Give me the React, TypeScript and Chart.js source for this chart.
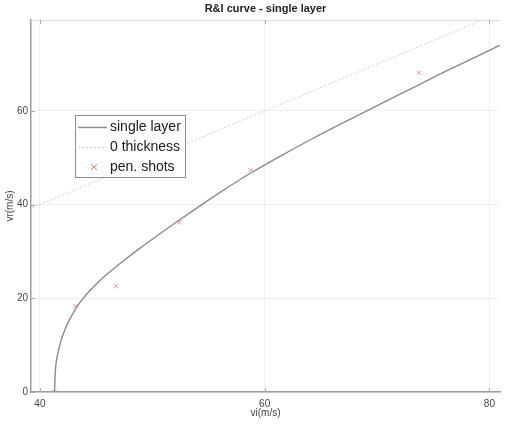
import React, { useEffect, useRef } from 'react';
import { Chart, registerables } from 'chart.js';

Chart.register(...registerables);

const TITLE = 'R&I curve - single layer';
const X_LABEL = 'vi(m/s)';
const Y_LABEL = 'vr(m/s)';
const X_TICKS = [40, 60, 80];
const Y_TICKS = [0, 20, 40, 60];
const SERIES_LABELS = ['single layer', '0 thickness', 'pen. shots'];

const singleLayerVi = [41.3, 41.38, 41.6, 41.9, 42.35, 42.95, 43.5, 44.4, 45.3, 46.5, 47.7, 48.8, 50, 52.35, 55.9, 58.8, 61.2, 64.2, 67.6, 70.5, 73.5, 76.4, 79.4, 81.5];
const singleLayerVr = [0, 4.5, 8.2, 11.1, 14.0, 16.8, 18.9, 21.5, 23.7, 26.2, 28.5, 30.5, 32.6, 36.6, 42.4, 46.8, 50.1, 54.0, 58.2, 61.7, 65.3, 68.8, 72.2, 74.7];

const zeroThicknessVi = [39, 82];
const zeroThicknessVr = [39, 82];

const penShotVi = [41.3, 43.15, 46.75, 52.4, 58.75, 73.75];
const penShotVr = [0, 18.3, 22.6, 36.2, 47.4, 68.1];

const FONT = '"Liberation Sans", Arial, Helvetica, sans-serif';

const overlayPlugin = {
  id: 'overlay',
  afterDraw(chart: any) {
    const ctx = chart.ctx;
    const { left, right, top, bottom } = chart.chartArea;
    const xs = chart.scales.x;
    const ys = chart.scales.y;
    ctx.save();
    // top border
    ctx.strokeStyle = '#dcdcdc';
    ctx.lineWidth = 1;
    ctx.beginPath();
    ctx.moveTo(left, top + 0.5);
    ctx.lineTo(right, top + 0.5);
    ctx.stroke();
    // inward ticks
    ctx.strokeStyle = '#aaaaaa';
    ctx.beginPath();
    X_TICKS.forEach((v) => {
      const px = Math.round(xs.getPixelForValue(v)) + 0.5;
      ctx.moveTo(px, bottom);
      ctx.lineTo(px, bottom - 4);
      ctx.moveTo(px, top);
      ctx.lineTo(px, top + 4);
    });
    Y_TICKS.forEach((v) => {
      const py = Math.round(ys.getPixelForValue(v)) + 0.5;
      ctx.moveTo(left, py);
      ctx.lineTo(left + 4, py);
    });
    ctx.stroke();
    // title
    ctx.fillStyle = '#222';
    ctx.font = 'bold 11px "Liberation Sans Narrow", "Liberation Sans", Arial, sans-serif';
    ctx.textAlign = 'center';
    ctx.textBaseline = 'middle';
    ctx.fillText(TITLE, (left + right) / 2, 9);
    // legend
    const bx = 75.5, by = 115.5, bw = 110, bh = 62;
    ctx.fillStyle = '#ffffff';
    ctx.fillRect(bx, by, bw, bh);
    ctx.strokeStyle = '#8c8c8c';
    ctx.lineWidth = 1;
    ctx.strokeRect(bx, by, bw, bh);
    const rows = [127, 147, 167];
    const ds = chart.data.datasets;
    ctx.font = '14px ' + FONT;
    ctx.textAlign = 'left';
    ctx.textBaseline = 'middle';
    rows.forEach((ry, i) => {
      const d = ds[i];
      if (i === 2) {
        ctx.strokeStyle = '#ee7777';
        ctx.lineWidth = 1;
        ctx.beginPath();
        ctx.moveTo(91, ry - 3);
        ctx.lineTo(97, ry + 3);
        ctx.moveTo(97, ry - 3);
        ctx.lineTo(91, ry + 3);
        ctx.stroke();
      } else {
        ctx.strokeStyle = d.borderColor;
        ctx.lineWidth = d.borderWidth;
        ctx.setLineDash(d.borderDash || []);
        ctx.beginPath();
        ctx.moveTo(78, ry + 0.5);
        ctx.lineTo(107, ry + 0.5);
        ctx.stroke();
        ctx.setLineDash([]);
      }
      ctx.fillStyle = '#1a1a1a';
      ctx.fillText(d.label, 110, ry);
    });
    ctx.restore();
  },
};

export default function App() {
  const ref = useRef<HTMLCanvasElement>(null);
  useEffect(() => {
    if (!ref.current) return;
    const chart = new Chart(ref.current, {
      type: 'scatter',
      data: {
        datasets: [
          {
            label: SERIES_LABELS[0],
            data: singleLayerVi.map((x, i) => ({ x, y: singleLayerVr[i] })),
            showLine: true,
            borderColor: '#8a8a8a',
            borderWidth: 1.4,
            pointRadius: 0,
            cubicInterpolationMode: 'monotone',
            fill: false,
          },
          {
            label: SERIES_LABELS[1],
            data: zeroThicknessVi.map((x, i) => ({ x, y: zeroThicknessVr[i] })),
            showLine: true,
            borderColor: '#cfcfcf',
            borderWidth: 1,
            borderDash: [2, 2],
            pointRadius: 0,
            fill: false,
          },
          {
            label: SERIES_LABELS[2],
            data: penShotVi.map((x, i) => ({ x, y: penShotVr[i] })),
            showLine: false,
            pointStyle: 'crossRot',
            pointRadius: 3,
            borderColor: '#e99a9a',
            backgroundColor: '#e99a9a',
            pointBorderWidth: 1,
          },
        ],
      },
      options: {
        animation: false,
        responsive: false,
        events: [],
        layout: { padding: { top: 20, left: 0, right: 0, bottom: 0 } },
        plugins: { legend: { display: false }, tooltip: { enabled: false }, title: { display: false } },
        scales: {
          x: {
            type: 'linear',
            min: 39.21,
            max: 80.94,
            afterBuildTicks: (s: any) => { s.ticks = X_TICKS.map((v) => ({ value: v })); },
            afterFit: (s: any) => { s.height = 37; },
            grid: { color: 'rgba(0,0,0,0.06)', drawTicks: false },
            border: { color: '#9c9c9c', width: 1.5 },
            ticks: { padding: 6, color: '#444', font: { size: 10, family: FONT } },
            title: { display: true, text: X_LABEL, color: '#444', font: { size: 10, family: FONT }, padding: { top: 0, bottom: 10 } },
          },
          y: {
            type: 'linear',
            min: 0,
            max: 79.4,
            afterBuildTicks: (s: any) => { s.ticks = Y_TICKS.map((v) => ({ value: v })); },
            afterFit: (s: any) => { s.width = 31; },
            grid: { color: 'rgba(0,0,0,0.06)', drawTicks: false },
            border: { color: '#9c9c9c', width: 1.5 },
            ticks: { padding: 3, color: '#444', font: { size: 10, family: FONT } },
            title: { display: true, text: Y_LABEL, color: '#444', font: { size: 10, family: FONT }, padding: { top: 4, bottom: 0 } },
          },
        },
      },
      plugins: [overlayPlugin],
    } as any);
    return () => chart.destroy();
  }, []);
  return (
    <div style={{ position: 'fixed', left: 0, top: 0, width: 505, height: 429, background: '#fff' }}>
      <canvas ref={ref} width={505} height={429} />
    </div>
  );
}
